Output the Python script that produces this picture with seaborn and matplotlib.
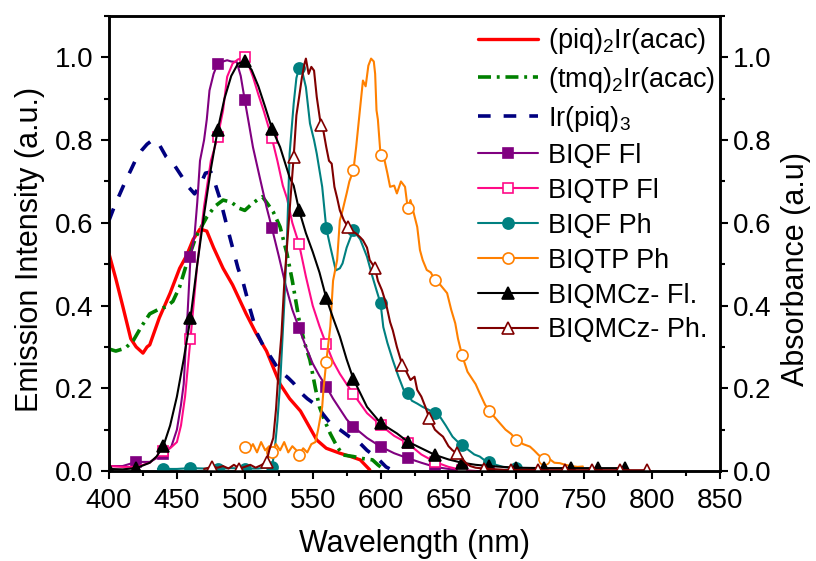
import matplotlib
matplotlib.use("Agg")
import matplotlib.pyplot as plt
import seaborn as sns
from matplotlib.ticker import MultipleLocator

# ---- spectra (wavelength in nm, normalised intensity) ----
piq_acac_x = [400, 405, 410, 416, 420, 425, 428, 430, 437, 445, 452, 457, 462, 467, 472, 477,
              484, 491, 501, 508, 516, 521, 526, 533, 541, 547, 553, 560, 570, 578, 585, 592]
piq_acac_y = [0.525, 0.465, 0.40, 0.32, 0.30, 0.285, 0.30, 0.305, 0.37, 0.43, 0.49, 0.52, 0.56,
              0.585, 0.58, 0.54, 0.49, 0.45, 0.38, 0.335, 0.29, 0.25, 0.21, 0.175, 0.145, 0.11,
              0.075, 0.055, 0.043, 0.035, 0.027, 0.003]

tmq_acac_x = [400, 405, 410, 413, 418, 424, 430, 436, 442, 447, 452, 458, 464, 468, 472, 478,
              484, 490, 496, 500, 505, 509, 513, 517, 521, 526, 531, 535, 540, 544, 548, 552,
              555, 559, 563, 567, 572, 580, 587, 594, 598, 600]
tmq_acac_y = [0.295, 0.29, 0.295, 0.30, 0.316, 0.35, 0.38, 0.39, 0.397, 0.41, 0.445, 0.51,
              0.566, 0.59, 0.614, 0.64, 0.655, 0.65, 0.635, 0.63, 0.645, 0.655, 0.663, 0.645,
              0.626, 0.59, 0.526, 0.46, 0.365, 0.31, 0.268, 0.2, 0.155, 0.12, 0.09, 0.065,
              0.039, 0.035, 0.03, 0.027, 0.015, 0.01]

ir_piq3_x = [400, 404, 408, 412, 416, 420, 424, 428, 432, 436, 442, 448, 454, 459, 463, 467,
             471, 475, 478, 482, 487, 491, 495, 499, 504, 509, 514, 519, 524, 528, 532, 536,
             541, 546, 551, 557, 563, 570, 577, 584, 590, 598, 604, 608]
ir_piq3_y = [0.606, 0.64, 0.67, 0.70, 0.727, 0.755, 0.775, 0.79, 0.80, 0.795, 0.76, 0.74, 0.71,
             0.685, 0.67, 0.69, 0.72, 0.723, 0.696, 0.655, 0.59, 0.54, 0.49, 0.453, 0.39, 0.333,
             0.30, 0.276, 0.25, 0.236, 0.225, 0.212, 0.19, 0.175, 0.163, 0.14, 0.115, 0.10,
             0.083, 0.07, 0.05, 0.03, 0.01, 0.003]

biqf_fl_x = [400, 410, 420, 430, 440, 446, 450, 453, 455, 458, 460, 463, 465, 467, 470, 472,
             474, 477, 480, 484, 487, 490, 494, 497, 500, 503, 506, 511, 516, 520, 525, 530,
             535, 540, 545, 550, 555, 560, 565, 570, 575, 580, 590, 600, 610, 620, 630, 640,
             650, 660, 670, 680]
biqf_fl_y = [0.012, 0.012, 0.022, 0.022, 0.04, 0.06, 0.10, 0.16, 0.21, 0.39, 0.517, 0.57, 0.65,
             0.75, 0.80, 0.85, 0.92, 0.96, 0.985, 0.99, 0.993, 0.99, 0.989, 0.955, 0.896, 0.84,
             0.783, 0.71, 0.638, 0.587, 0.52, 0.45, 0.39, 0.345, 0.30, 0.26, 0.23, 0.204, 0.175,
             0.15, 0.125, 0.107, 0.08, 0.059, 0.043, 0.031, 0.02, 0.01, 0.005, 0.001, 0.0, 0.0]

biqtp_fl_x = [400, 410, 420, 430, 440, 445, 450, 453, 456, 460, 465, 470, 475, 480, 484, 487,
              491, 495, 500, 503, 506, 510, 514, 520, 524, 528, 531, 535, 540, 545, 550, 555,
              560, 565, 570, 575, 580, 590, 600, 610, 620, 630, 640, 650, 660, 670]
biqtp_fl_y = [0.012, 0.01, 0.01, 0.02, 0.048, 0.055, 0.07, 0.11, 0.18, 0.32, 0.50, 0.64, 0.75,
              0.807, 0.872, 0.953, 0.985, 0.995, 1.0, 0.98, 0.953, 0.91, 0.87, 0.804, 0.75, 0.69,
              0.66, 0.60, 0.548, 0.47, 0.40, 0.35, 0.306, 0.265, 0.235, 0.21, 0.186, 0.14,
              0.111, 0.085, 0.067, 0.04, 0.022, 0.01, 0.002, 0.0]

biqf_ph_x = [436, 440, 450, 460, 470, 480, 490, 500, 510, 520, 522, 524, 526, 529, 531, 533,
             536, 538, 540, 542, 545, 548, 551, 553, 557, 560, 563, 567, 570, 572, 575, 578,
             580, 585, 590, 594, 597, 600, 602, 605, 609, 613, 617, 620, 623, 627, 631, 636,
             640, 644, 648, 653, 657, 660, 665, 669, 673, 677, 680, 685, 690, 695, 700, 710, 720]
biqf_ph_y = [0.005, 0.005, 0.005, 0.007, 0.006, 0.005, 0.007, 0.006, 0.006, 0.01, 0.05, 0.12,
             0.21, 0.40, 0.55, 0.767, 0.888, 0.95, 0.975, 0.97, 0.928, 0.84, 0.80, 0.767, 0.687,
             0.587, 0.542, 0.485, 0.49, 0.502, 0.54, 0.566, 0.582, 0.56, 0.518, 0.47, 0.437,
             0.405, 0.348, 0.31, 0.268, 0.23, 0.196, 0.188, 0.17, 0.163, 0.155, 0.147, 0.14,
             0.13, 0.11, 0.083, 0.07, 0.063, 0.05, 0.04, 0.035, 0.025, 0.022, 0.015, 0.01,
             0.008, 0.007, 0.005, 0.003]

biqtp_ph_x = [497, 500, 503, 506, 509, 512, 515, 518, 520, 523, 526, 529, 532, 535, 538, 540,
              543, 546, 549, 552, 554, 557, 558, 560, 563, 565, 568, 570, 572, 575, 577, 580,
              582, 585, 587, 589, 591, 593, 595, 596, 597, 598, 600, 603, 605, 607, 610, 612,
              615, 618, 620, 622, 627, 629, 631, 634, 637, 640, 644, 649, 652, 655, 657, 660,
              664, 668, 670, 673, 677, 680, 684, 688, 692, 696, 700, 705, 710, 713, 716, 720,
              724, 728, 732, 736, 740, 745, 749]
biqtp_ph_y = [0.06, 0.059, 0.05, 0.065, 0.045, 0.07, 0.05, 0.06, 0.047, 0.065, 0.05, 0.07,
              0.045, 0.06, 0.05, 0.039, 0.055, 0.045, 0.065, 0.07, 0.10, 0.155, 0.20, 0.264,
              0.35, 0.46, 0.51, 0.606, 0.63, 0.671, 0.70, 0.727, 0.783, 0.88, 0.944, 0.93, 0.98,
              0.997, 0.99, 0.96, 0.872, 0.85, 0.763, 0.75, 0.72, 0.687, 0.69, 0.671, 0.70, 0.687,
              0.635, 0.655, 0.59, 0.534, 0.51, 0.486, 0.48, 0.461, 0.45, 0.43, 0.39, 0.357, 0.32,
              0.28, 0.24, 0.22, 0.21, 0.188, 0.16, 0.146, 0.13, 0.115, 0.10, 0.09, 0.076, 0.065,
              0.059, 0.05, 0.04, 0.028, 0.03, 0.02, 0.019, 0.015, 0.012, 0.01, 0.011]

biqmcz_fl_x = [400, 410, 420, 430, 435, 440, 445, 450, 455, 460, 465, 470, 475, 480, 485, 490,
               495, 500, 505, 510, 515, 520, 526, 533, 536, 540, 545, 550, 555, 560, 565, 570,
               575, 580, 590, 600, 612, 620, 630, 640, 650, 660, 670, 680, 690, 700, 720, 740,
               760, 780]
biqmcz_fl_y = [0.005, 0.004, 0.007, 0.02, 0.035, 0.06, 0.11, 0.18, 0.27, 0.37, 0.50, 0.62, 0.73,
               0.824, 0.90, 0.955, 0.985, 0.99, 0.97, 0.93, 0.88, 0.828, 0.783, 0.71, 0.69, 0.63,
               0.575, 0.53, 0.48, 0.418, 0.37, 0.325, 0.27, 0.222, 0.155, 0.116, 0.091, 0.071,
               0.055, 0.039, 0.028, 0.02, 0.015, 0.012, 0.01, 0.008, 0.007, 0.007, 0.007, 0.007]

biqmcz_ph_x = [470, 476, 480, 484, 488, 492, 496, 500, 504, 508, 512, 516, 518, 521, 523, 525,
               527, 529, 531, 533, 536, 538, 540, 542, 544, 545, 547, 549, 551, 553, 556, 558,
               560, 562, 564, 566, 568, 570, 573, 576, 579, 582, 585, 587, 590, 592, 596, 598,
               601, 604, 607, 609, 612, 616, 619, 622, 625, 627, 630, 633, 636, 640, 643, 646,
               650, 653, 656, 660, 663, 666, 670, 676, 686, 696, 706, 716, 726, 736, 746, 756,
               766, 776, 786, 796]
biqmcz_ph_y = [0.005, 0.01, 0.008, 0.012, 0.006, 0.015, 0.006, 0.01, 0.015, 0.008, 0.014, 0.022,
               0.05, 0.08, 0.15, 0.25, 0.33, 0.45, 0.54, 0.63, 0.76, 0.86, 0.904, 0.95, 0.985,
               0.997, 0.96, 0.977, 0.968, 0.904, 0.836, 0.82, 0.783, 0.75, 0.743, 0.687, 0.66,
               0.63, 0.606, 0.59, 0.58, 0.574, 0.565, 0.558, 0.54, 0.51, 0.49, 0.46, 0.437, 0.405,
               0.36, 0.34, 0.30, 0.256, 0.24, 0.22, 0.228, 0.196, 0.18, 0.155, 0.127, 0.10, 0.091,
               0.083, 0.06, 0.05, 0.043, 0.03, 0.019, 0.012, 0.008, 0.006, 0.004, 0.002, 0.003,
               0.002, 0.002, 0.002, 0.002, 0.002, 0.002, 0.002, 0.002, 0.002]

labels = [r"(piq)$_2$Ir(acac)", r"(tmq)$_2$Ir(acac)", r"Ir(piq)$_3$",
          "BIQF Fl", "BIQTP Fl", "BIQF Ph", "BIQTP Ph", "BIQMCz- Fl.", "BIQMCz- Ph."]

x_ticks = [400, 450, 500, 550, 600, 650, 700, 750, 800, 850]
y_ticks = [0.0, 0.2, 0.4, 0.6, 0.8, 1.0]

sns.set_style("ticks")
plt.rcParams["font.family"] = ["Liberation Sans", "DejaVu Sans"]
plt.rcParams["mathtext.default"] = "regular"
plt.rcParams["text.color"] = "black"
plt.rcParams["axes.labelcolor"] = "black"
plt.rcParams["xtick.color"] = "black"
plt.rcParams["ytick.color"] = "black"
plt.rcParams["axes.edgecolor"] = "black"

fig, ax = plt.subplots(figsize=(8.16, 5.61), dpi=100)
fig.subplots_adjust(left=0.1336, right=0.8824, bottom=0.1604, top=0.9715)


def marks(xs, start, stop, step=20):
    """indices of the samples that carry a symbol"""
    wanted = set(range(start, stop + 1, step))
    return [i for i, v in enumerate(xs) if v in wanted]


series = [
    dict(x=piq_acac_x, y=piq_acac_y, color="#FF0000", lw=2.4, ls="-"),
    dict(x=tmq_acac_x, y=tmq_acac_y, color="#008000", lw=2.6, ls=(0, (3.6, 1.6, 0.8, 1.6))),
    dict(x=ir_piq3_x, y=ir_piq3_y, color="#000080", lw=2.6, ls=(0, (3.5, 3.6))),
    dict(x=biqf_fl_x, y=biqf_fl_y, color="#800080", lw=1.5, ls="-", marker="s",
         mfc="#800080", ms=7.5, every=marks(biqf_fl_x, 420, 680)),
    dict(x=biqtp_fl_x, y=biqtp_fl_y, color="#FF0A87", lw=1.5, ls="-", marker="s",
         mfc="white", ms=7.5, every=marks(biqtp_fl_x, 440, 660)),
    dict(x=biqf_ph_x, y=biqf_ph_y, color="#008080", lw=1.5, ls="-", marker="o",
         mfc="#008080", ms=8, every=marks(biqf_ph_x, 440, 700)),
    dict(x=biqtp_ph_x, y=biqtp_ph_y, color="#FF8000", lw=1.5, ls="-", marker="o",
         mfc="white", ms=8, every=marks(biqtp_ph_x, 500, 720)),
    dict(x=biqmcz_fl_x, y=biqmcz_fl_y, color="#000000", lw=1.5, ls="-", marker="^",
         mfc="#000000", ms=9, every=marks(biqmcz_fl_x, 400, 780)),
    dict(x=biqmcz_ph_x, y=biqmcz_ph_y, color="#800000", lw=1.5, ls="-", marker="^",
         mfc="white", ms=9, every=marks(biqmcz_ph_x, 476, 796)),
]

for s, lab in zip(series, labels):
    kw = dict(color=s["color"], linewidth=s["lw"], linestyle=s["ls"], label=lab)
    if "marker" in s:
        kw.update(marker=s["marker"], markersize=s["ms"], markerfacecolor=s["mfc"],
                  markeredgecolor=s["color"], markeredgewidth=1.2, markevery=s["every"])
    sns.lineplot(x=s["x"], y=s["y"], ax=ax, estimator=None, sort=False, **kw)

ax.set_xlim(400, 850)
ax.set_ylim(0, 1.1)
ax.set_xticks(x_ticks)
ax.set_yticks(y_ticks)
ax.xaxis.set_minor_locator(MultipleLocator(25))
ax.yaxis.set_minor_locator(MultipleLocator(0.1))
ax.set_xticklabels([str(v) for v in x_ticks])
ax.set_yticklabels([f"{v:.1f}" for v in y_ticks])

ax2 = ax.twinx()
ax2.set_ylim(0, 1.1)
ax2.set_yticks(y_ticks)
ax2.yaxis.set_minor_locator(MultipleLocator(0.1))
ax2.set_yticklabels([f"{v:.1f}" for v in y_ticks])

for a in (ax, ax2):
    for sp in a.spines.values():
        sp.set_linewidth(1.8)
        sp.set_color("black")
    a.tick_params(which="major", direction="out", length=6, width=1.5, labelsize=20,
                  color="black", labelcolor="black")
    a.tick_params(which="minor", direction="out", length=3.5, width=1.5, color="black")

ax.tick_params(axis="x", which="both", top=False, pad=6)
ax.tick_params(axis="y", which="both", right=False, pad=5)
ax2.tick_params(axis="y", which="both", left=False, right=True, pad=3)

ax.set_xlabel("Wavelength (nm)", fontsize=22, color="black")
ax.set_ylabel("Emission Intensity (a.u.)", fontsize=22, color="black")
ax2.set_ylabel("Absorbance (a.u)", fontsize=22, rotation=90, color="black")
ax.xaxis.set_label_coords(0.5, -0.127)
ax.yaxis.set_label_coords(-0.105, 0.488)
ax2.yaxis.set_label_coords(1.10, 0.444)

leg = ax.legend(loc="upper left", bbox_to_anchor=(0.604, 0.978), frameon=False,
                fontsize=19.5, borderpad=0, borderaxespad=0, handlelength=2.2,
                handletextpad=0.38, labelspacing=0.33)
for t in leg.get_texts():
    t.set_color("black")
ax2.set_zorder(ax.get_zorder() - 1)
ax.patch.set_visible(False)

fig.savefig("out.png", dpi=100)
